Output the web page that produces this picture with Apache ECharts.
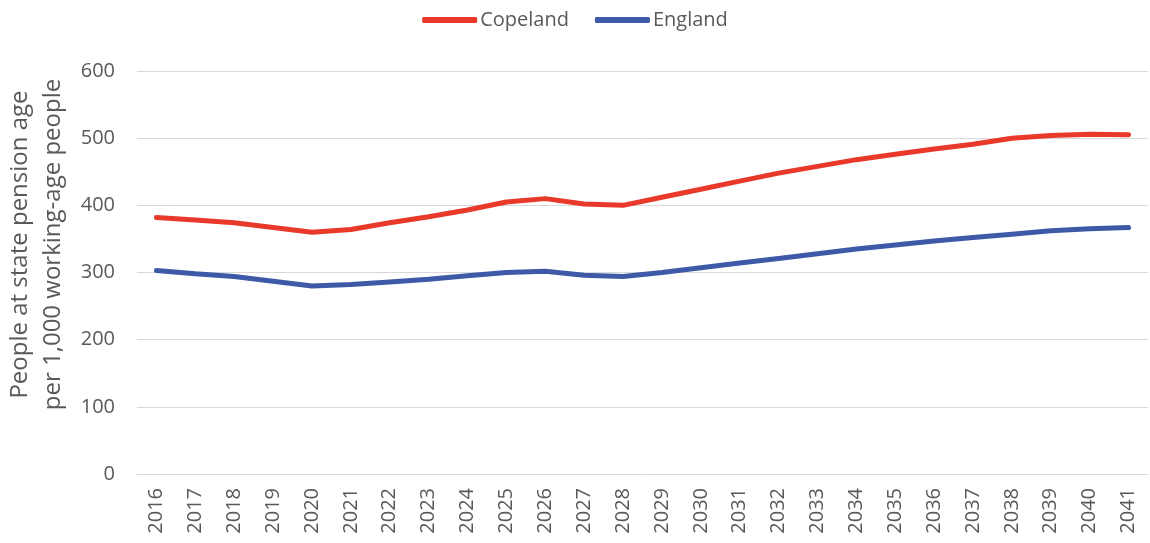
<!DOCTYPE html>
<html><head><meta charset="utf-8">
<script src="https://cdn.jsdelivr.net/npm/echarts@6/dist/echarts.min.js"></script>
<style>html,body{margin:0;padding:0;background:#fff}#c{width:1150px;height:543px}</style>
</head><body><div id="c"></div>
<script>
const years = ['2016','2017','2018','2019','2020','2021','2022','2023','2024','2025','2026','2027','2028','2029','2030','2031','2032','2033','2034','2035','2036','2037','2038','2039','2040','2041'];
const copeland = [382,378,374,367,360,364,374,383,393,405,410,402,400,412,424,436,448,458,468,476,484,491,500,504,506,505];
const england = [303,298,294,287,280,282,286,290,295,300,302,296,294,300,307,314,321,328,335,341,347,352,357,362,365,367];
const yTicks = [0,100,200,300,400,500,600];
const FONT = '"Open Sans", "Noto Sans", sans-serif';
const chart = echarts.init(document.getElementById('c'));
chart.setOption({
  animation: false,
  textStyle: {fontFamily: FONT, color: '#595959'},
  legend: {
    top: 5, left: 'center', itemWidth: 55, itemHeight: 6, itemGap: 26,
    textStyle: {fontSize: 20, color: '#595959', fontFamily: FONT, padding: [0,0,0,-2]},
    icon: 'roundRect',
    data: ['Copeland', 'England']
  },
  grid: {left: 137, right: 2, top: 71, bottom: 69, containLabel: false, outerBoundsMode: 'none'},
  xAxis: {
    type: 'category', data: years, boundaryGap: true,
    axisLine: {show: true, lineStyle: {color: '#d9d9d9', width: 1}},
    axisTick: {show: false},
    axisLabel: {rotate: 90, fontSize: 20, color: '#595959', margin: 14, interval: 0, fontFamily: FONT}
  },
  yAxis: {
    type: 'value', min: yTicks[0], max: yTicks[yTicks.length-1], interval: 100,
    name: 'People at state pension age\nper 1,000 working-age people',
    nameLocation: 'middle', nameGap: 65, nameRotate: 90,
    nameTextStyle: {fontSize: 24, color: '#595959', lineHeight: 33, fontFamily: FONT, padding: [0,0,0,56]},
    axisLine: {show: false}, axisTick: {show: false},
    axisLabel: {fontSize: 20, color: '#595959', margin: 22, fontFamily: FONT},
    splitLine: {lineStyle: {color: '#d9d9d9', width: 1}}
  },
  series: [
    {name: 'Copeland', type: 'line', data: copeland, symbol: 'none',
     lineStyle: {color: '#e8392a', width: 5, cap: 'round'}, itemStyle: {color: '#e8392a'}},
    {name: 'England', type: 'line', data: england, symbol: 'none',
     lineStyle: {color: '#3e59a8', width: 5, cap: 'round'}, itemStyle: {color: '#3e59a8'}}
  ]
});
</script></body></html>
